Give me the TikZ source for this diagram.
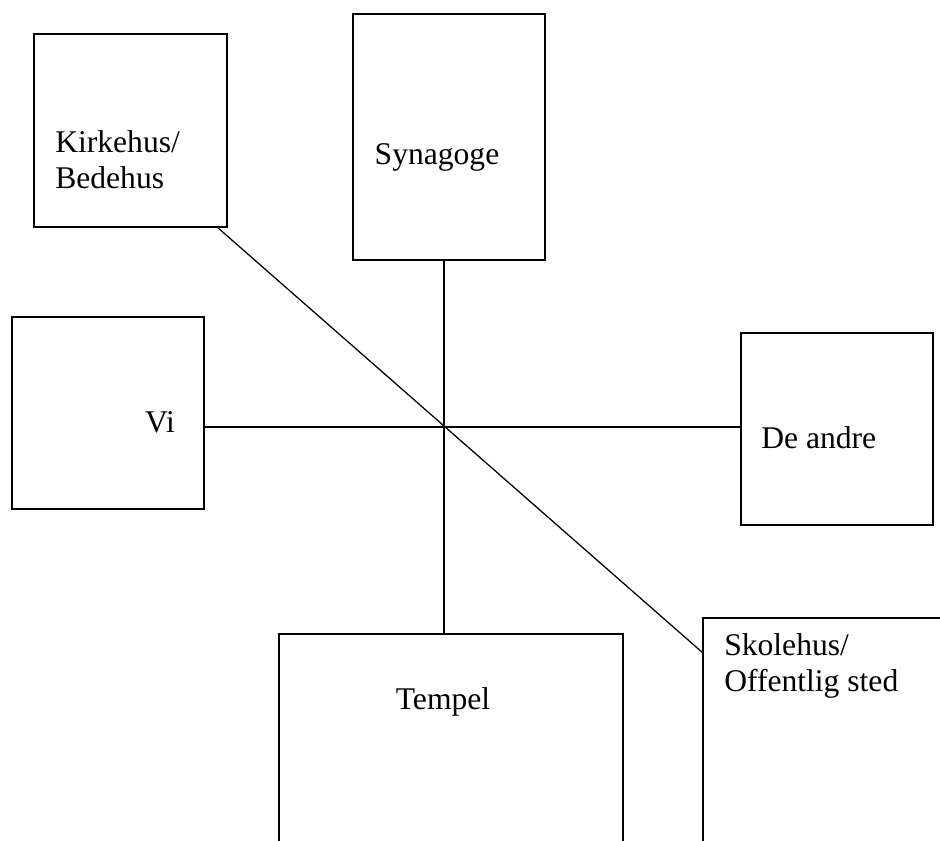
\documentclass[tikz,border=0pt]{standalone}
\usepackage{fontspec}
\setmainfont{Liberation Serif}
\usetikzlibrary{fit}
\begin{document}
\begin{tikzpicture}[x=0.75pt,y=-0.75pt,
  box/.style={draw, line width=1pt, inner sep=0pt, outer sep=0pt},
  lbl/.style={font=\fontsize{23.7}{27}\selectfont, inner sep=0pt, align=left},
  link/.style={line width=0.95pt}]
\useasboundingbox (0,0) rectangle (940,840);
\clip (0,0) rectangle (940,840);
% boxes
\node[box, fit={(34,34) (227,227)}] (kirke) {};
\node[box, fit={(353,14) (545,260)}] (syn) {};
\node[box, fit={(12,317) (204,509)}] (vi) {};
\node[box, fit={(741,333) (933,525)}] (andre) {};
\node[box, fit={(279,634) (623,900)}] (tempel) {};
\node[box, fit={(703,618) (990,900)}] (skole) {};
% labels
\node[lbl, anchor=west] (kirketxt) at (55,160) {Kirkehus/\\Bedehus};
\node[lbl] (syntxt) at (437,157) {Synagoge};
\node[lbl] (vitxt) at (160,422) {Vi};
\node[lbl, anchor=west] (andretxt) at (761,438) {De andre};
\node[lbl] (tempeltxt) at (443,702) {Tempel};
\node[lbl, anchor=west] (skoletxt) at (724,666) {Skolehus/\\Offentlig sted};
% connectors
\coordinate (vtop) at ([xshift=-3.75pt]syn.south);
\draw[link] (vtop) -- (vtop |- tempel.north);
\coordinate (hl) at ([yshift=-10.5pt]vi.east);
\draw[link] (hl) -- (hl -| andre.west);
\coordinate (d1) at ([xshift=-7.5pt]kirke.south east);
\coordinate (d2) at ([yshift=-26.25pt]skole.north west);
\draw[link] (d1) -- (d2);
\end{tikzpicture}
\end{document}
